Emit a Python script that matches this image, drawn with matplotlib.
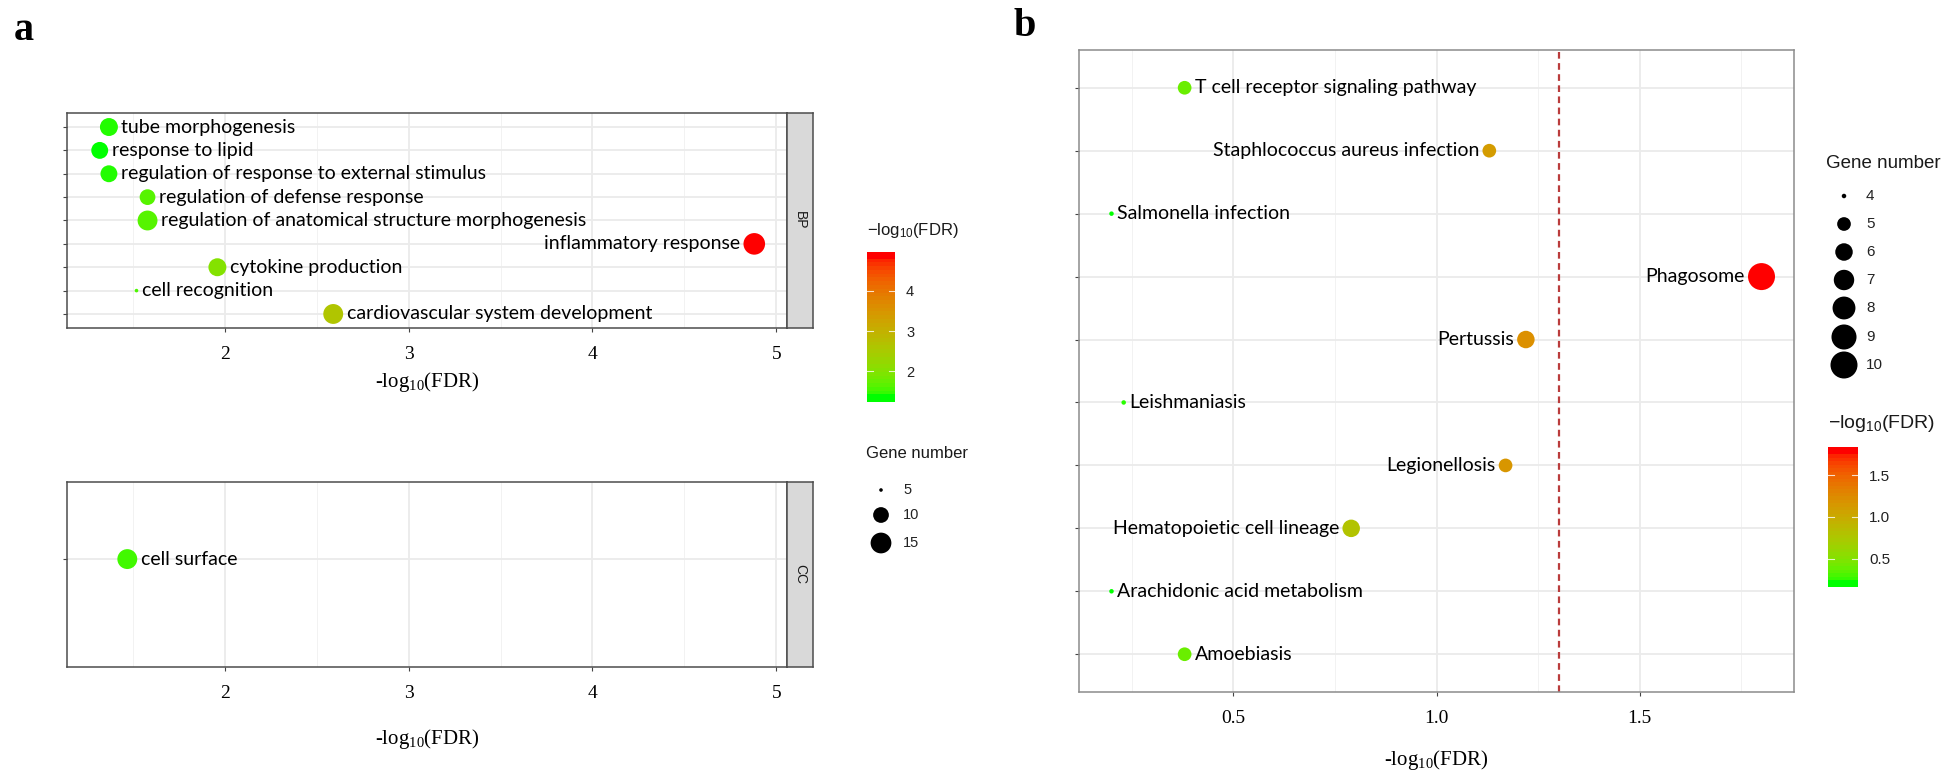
import numpy as np
import matplotlib
matplotlib.use("Agg")
import matplotlib.pyplot as plt
from matplotlib.colors import ListedColormap, Normalize

plt.rcParams["mathtext.default"] = "regular"

# ---------------- data: panel a (GO) ----------------
bp_terms = ["tube morphogenesis", "response to lipid",
            "regulation of response to external stimulus",
            "regulation of defense response",
            "regulation of anatomical structure morphogenesis",
            "inflammatory response", "cytokine production",
            "cell recognition", "cardiovascular system development"]
bp_logfdr = [1.37, 1.32, 1.37, 1.58, 1.58, 4.88, 1.96, 1.52, 2.59]
bp_genes = [12, 11, 11, 10, 14, 16, 12, 5, 14]
cc_terms = ["cell surface"]
cc_logfdr = [1.47]
cc_genes = [14]
a_x_ticks = [2, 3, 4, 5]
a_size_breaks = [5, 10, 15]
a_color_ticks = [2, 3, 4]

# ---------------- data: panel b (KEGG) ----------------
kegg_terms = ["T cell receptor signaling pathway", "Staphlococcus aureus infection",
              "Salmonella infection", "Phagosome", "Pertussis", "Leishmaniasis",
              "Legionellosis", "Hematopoietic cell lineage",
              "Arachidonic acid metabolism", "Amoebiasis"]
kegg_logfdr = [0.38, 1.13, 0.20, 1.80, 1.22, 0.23, 1.17, 0.79, 0.20, 0.38]
kegg_genes = [5, 5, 4, 10, 6, 4, 5, 6, 4, 5]
b_x_ticks = [0.5, 1.0, 1.5]
b_size_breaks = [4, 5, 6, 7, 8, 9, 10]
b_color_ticks = [0.5, 1.0, 1.5]
fdr_threshold = -np.log10(0.05)

# ---------------- colour scale: green -> red interpolated in Lab ----------------
_M = np.array([[0.4124564, 0.3575761, 0.1804375],
               [0.2126729, 0.7151522, 0.0721750],
               [0.0193339, 0.1191920, 0.9503041]])
_W = np.array([0.95047, 1.0, 1.08883])


def srgb_to_lab(rgb):
    rgb = np.asarray(rgb, float)
    lin = np.where(rgb <= 0.04045, rgb / 12.92, ((rgb + 0.055) / 1.055) ** 2.4)
    t = (_M @ lin) / _W
    d = 6 / 29
    f = np.where(t > d ** 3, np.cbrt(t), t / (3 * d * d) + 4 / 29)
    return np.array([116 * f[1] - 16, 500 * (f[0] - f[1]), 200 * (f[1] - f[2])])


def lab_to_srgb(lab):
    L, a, b = lab
    fy = (L + 16) / 116
    fx = fy + a / 500
    fz = fy - b / 200
    d = 6 / 29
    finv = lambda f: np.where(f > d, f ** 3, 3 * d * d * (f - 4 / 29))
    xyz = np.array([finv(fx), finv(fy), finv(fz)]) * _W
    lin = np.clip(np.linalg.inv(_M) @ xyz, 0, 1)
    rgb = np.where(lin <= 0.0031308, 12.92 * lin, 1.055 * lin ** (1 / 2.4) - 0.055)
    return np.clip(rgb, 0, 1)


lab_lo = srgb_to_lab([0.0, 1.0, 0.0])
lab_hi = srgb_to_lab([1.0, 0.0, 0.0])
cmap = ListedColormap([lab_to_srgb(lab_lo + t * (lab_hi - lab_lo))
                       for t in np.linspace(0, 1, 256)])

# ---------------- figure ----------------
W, H, DPI = 1948, 770, 100
fig = plt.figure(figsize=(W / DPI, H / DPI), dpi=DPI)


def px_axes(x0, y0, x1, y1, **kw):
    return fig.add_axes([x0 / W, 1 - y1 / H, (x1 - x0) / W, (y1 - y0) / H], **kw)


LABEL_FONT = "Lato"
SERIF = "Liberation Serif"
SANS = "Liberation Sans"
LABEL_FS = 14


def size_px(v, vmin, vmax, k):
    return k * (1 + 5 * np.sqrt((np.asarray(v, float) - vmin) / (vmax - vmin)))


def style_axes(ax, xlim, ylim, xticks, border, minor_step):
    ax.set_xlim(*xlim)
    ax.set_ylim(*ylim)
    ax.set_xticks(xticks)
    ax.set_xticks(np.arange(xticks[0] - minor_step, xlim[1], minor_step * 2), minor=True)
    ax.grid(True, which="major", color="#EBEBEB", lw=1.3, zorder=0)
    ax.grid(True, which="minor", axis="x", color="#F2F2F2", lw=0.7, zorder=0)
    ax.set_axisbelow(True)
    for s in ax.spines.values():
        s.set_color(border)
        s.set_linewidth(1.1)
    ax.tick_params(axis="y", length=3, color="#444444", labelleft=False)
    ax.tick_params(axis="x", which="major", length=3, color="#444444",
                   labelsize=14, pad=10)
    ax.tick_params(axis="x", which="minor", length=0)
    for lab in ax.get_xticklabels():
        lab.set_fontfamily(SERIF)


def draw_points(ax, xs, genes, vmin_g, vmax_g, k, norm, labels, left_thresh):
    ys = np.arange(len(xs))
    d = size_px(genes, vmin_g, vmax_g, k)
    ax.scatter(xs, ys, s=(d * 72 / DPI) ** 2, c=cmap(norm(np.asarray(xs))),
               edgecolors="none", zorder=3, clip_on=False)
    for x, y, dd, lab in zip(xs, ys, d, labels):
        off = (dd / 2 + 3.5) * 72 / DPI
        left = x > left_thresh
        ax.annotate(lab, (x, y), xytext=(-off if left else off, 0),
                    textcoords="offset points", ha="right" if left else "left",
                    va="center", fontsize=LABEL_FS, family=LABEL_FONT, color="black",
                    zorder=4)


def strip(x0, y0, x1, y1, text):
    sax = px_axes(x0, y0, x1, y1)
    sax.set_facecolor("#D9D9D9")
    sax.set_xticks([])
    sax.set_yticks([])
    for s in sax.spines.values():
        s.set_color("#4D4D4D")
        s.set_linewidth(1.1)
    sax.text(0.5, 0.5, text, rotation=-90, ha="center", va="center",
             fontsize=10, family=SANS, color="#1A1A1A", transform=sax.transAxes)


xlabel_txt = "-log$_{10}$(FDR)"

# ---- panel a ----
a_all = np.array(bp_logfdr + cc_logfdr)
a_lo, a_hi = a_all.min(), a_all.max()
a_pad = 0.05 * (a_hi - a_lo)
a_xlim = (a_lo - a_pad, a_hi + a_pad)
a_norm = Normalize(a_lo, a_hi)
a_gmin, a_gmax = min(bp_genes + cc_genes), max(bp_genes + cc_genes)
K_A = 3.6

ax1 = px_axes(67, 113, 787, 328)
n1 = len(bp_terms)
style_axes(ax1, a_xlim, (n1 - 0.4, -0.6), a_x_ticks, "#4D4D4D", 0.5)
ax1.set_yticks(np.arange(n1))
draw_points(ax1, bp_logfdr, bp_genes, a_gmin, a_gmax, K_A, a_norm, bp_terms, 4.0)
ax1.set_xlabel(xlabel_txt, fontsize=15, family=SERIF, labelpad=5)
strip(787, 113, 813, 328, "BP")

ax2 = px_axes(67, 482, 787, 667)
style_axes(ax2, a_xlim, (0.63, -0.45), a_x_ticks, "#4D4D4D", 0.5)
ax2.set_yticks(np.arange(len(cc_terms)))
draw_points(ax2, cc_logfdr, cc_genes, a_gmin, a_gmax, K_A, a_norm, cc_terms, 4.0)
ax2.set_xlabel(xlabel_txt, fontsize=15, family=SERIF, labelpad=18)
strip(787, 482, 813, 667, "CC")

# ---- panel b ----
b_all = np.array(kegg_logfdr)
b_lo, b_hi = b_all.min(), b_all.max()
b_pad = 0.05 * (b_hi - b_lo)
b_norm = Normalize(b_lo, b_hi)
K_B = 4.5
axb = px_axes(1079, 50, 1794, 692)
nb = len(kegg_terms)
style_axes(axb, (b_lo - b_pad, b_hi + b_pad), (nb - 0.4, -0.6), b_x_ticks, "#8C8C8C", 0.25)
axb.set_yticks(np.arange(nb))
axb.axvline(fdr_threshold, color="#BA3C3C", lw=1.6, ls=(0, (3, 2)), zorder=2)
draw_points(axb, kegg_logfdr, kegg_genes, min(kegg_genes), max(kegg_genes), K_B,
            b_norm, kegg_terms, 0.7)
axb.set_xlabel(xlabel_txt, fontsize=15, family=SERIF, labelpad=15)

# ---- legends (overlay in pixel coordinates) ----
ov = fig.add_axes([0, 0, 1, 1], zorder=10)
ov.set_xlim(0, W)
ov.set_ylim(H, 0)
ov.axis("off")


def colorbar(x0, y0, x1, y1, vmin, vmax, ticks, fmt, title_y, fs_title, fs_lab):
    ext = (vmax - vmin) / 38.0   # half-bin overhang of a 20-bin bar
    lo, hi = vmin - ext, vmax + ext
    cax = px_axes(x0, y0, x1, y1)
    grad = np.linspace(lo, hi, 40).reshape(-1, 1)
    cax.imshow(grad, extent=[0, 1, lo, hi], origin="lower", aspect="auto",
               cmap=cmap, norm=Normalize(vmin, vmax), interpolation="nearest")
    cax.set_xlim(0, 1)
    cax.set_ylim(lo, hi)
    cax.set_xticks([])
    cax.yaxis.tick_right()
    cax.set_yticks(ticks)
    cax.set_yticklabels([fmt.format(t) for t in ticks])
    cax.tick_params(axis="y", length=0, pad=8, labelsize=fs_lab, labelcolor="#222222")
    for lab in cax.get_yticklabels():
        lab.set_fontfamily(SANS)
    for t in ticks:
        cax.plot([0, 0.2], [t, t], color="white", lw=0.8, alpha=0.8)
        cax.plot([0.8, 1], [t, t], color="white", lw=0.8, alpha=0.8)
    for s in cax.spines.values():
        s.set_visible(False)
    ov.text(x0, title_y, "$-$log$_{10}$(FDR)", fontsize=fs_title, family=SANS,
            ha="left", va="center", color="#1A1A1A")


def size_legend(x_dot, x_lab, ys, breaks, vmin, vmax, k, title, title_x, title_y,
                fs_title, fs_lab):
    d = size_px(breaks, vmin, vmax, k)
    ov.scatter([x_dot] * len(breaks), ys, s=(d * 72 / DPI) ** 2, c="black",
               edgecolors="none")
    for y, b in zip(ys, breaks):
        ov.text(x_lab, y, str(b), fontsize=fs_lab, family=SANS, ha="left",
                va="center", color="#222222")
    ov.text(title_x, title_y, title, fontsize=fs_title, family=SANS, ha="left",
            va="center", color="#1A1A1A")


colorbar(867, 252, 895, 402, a_lo, a_hi, a_color_ticks, "{:g}", 230, 12, 10.5)
size_legend(881, 903, [490, 515, 543], a_size_breaks, a_gmin, a_gmax, K_A,
            "Gene number", 866, 453, 12, 10.5)
colorbar(1828, 447, 1858, 587, b_lo, b_hi, b_color_ticks, "{:.1f}", 424, 14, 11)
size_legend(1844, 1866, [196, 224, 252, 280, 308, 337, 365], b_size_breaks,
            min(kegg_genes), max(kegg_genes), K_B, "Gene number", 1826, 164, 13.5, 11)

# panel letters
fig.text(14 / W, 1 - 31 / H, "a", fontsize=29, fontweight="bold", family=SERIF,
         ha="left", va="center")
fig.text(1014 / W, 1 - 27 / H, "b", fontsize=29, fontweight="bold", family=SERIF,
         ha="left", va="center")

fig.savefig("out.png", dpi=DPI, facecolor="white")
